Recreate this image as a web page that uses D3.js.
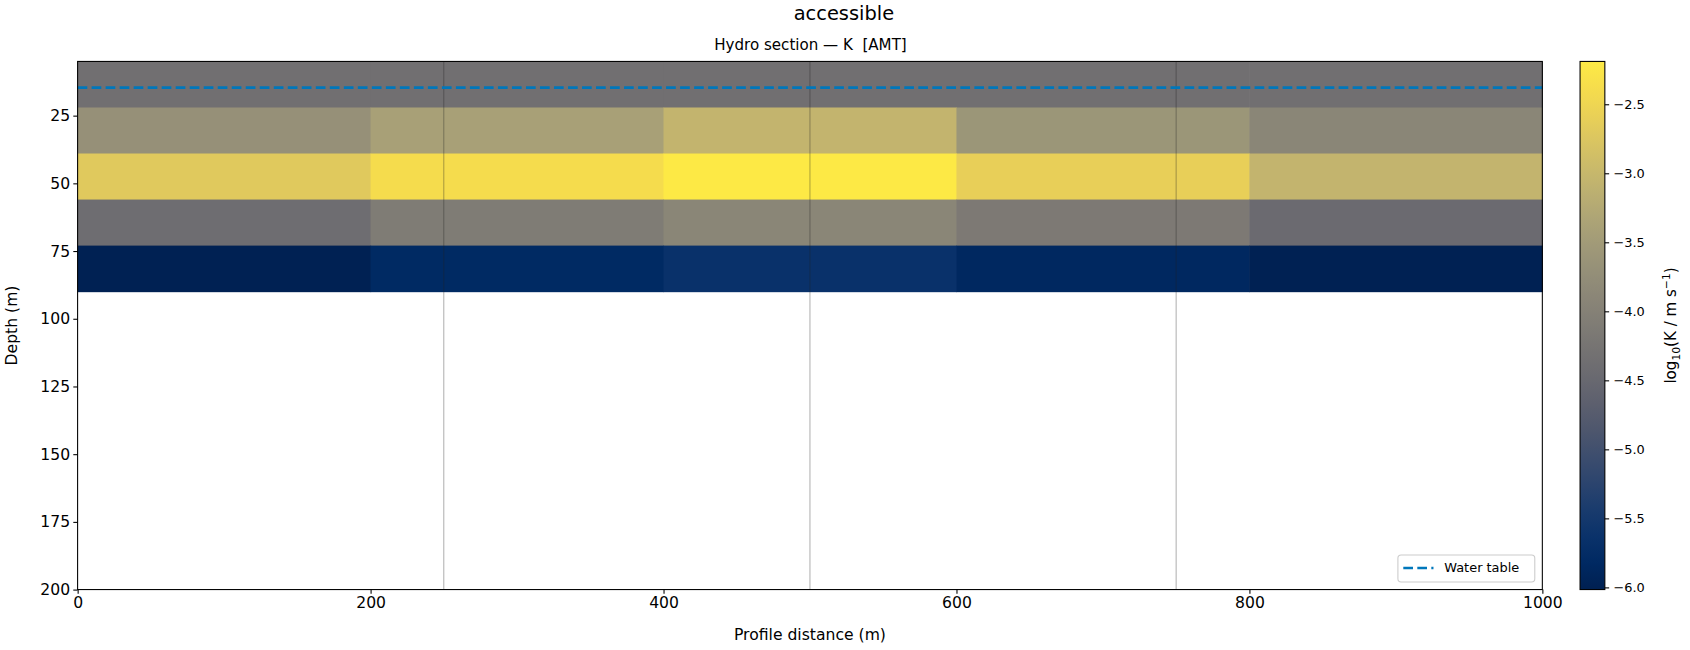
<!DOCTYPE html>
<html><head><meta charset="utf-8">
<script src="https://cdn.jsdelivr.net/npm/d3@7"></script>
<style>body{margin:0;background:#fff}text{font-family:"DejaVu Sans",sans-serif}</style>
</head><body><svg id="c" width="1690" height="650"></svg>
<script>
const colEdges=[0,200,400,600,800,1000];
const layerEdges=[5,22,39,56,73,90];
const logK=[
 [-4.35,-4.35,-4.35,-4.35,-4.35],
 [-3.7,-3.4,-3.05,-3.6,-3.9],
 [-2.7,-2.4,-2.2,-2.6,-3.05],
 [-4.4,-4.1,-3.9,-4.15,-4.45],
 [-6.0,-5.8,-5.65,-5.85,-6.0]];
const boreholes=[250,500,750];
const waterTable=14.7;
const xTicks=[0,200,400,600,800,1000];
const yTicks=[25,50,75,100,125,150,175,200];
const cTicks=[-6,-5.5,-5,-4.5,-4,-3.5,-3,-2.5];
const cDomain=[-6.016,-2.19];

const svg=d3.select("#c").append("g").attr("transform","scale(1.0778)");
const L=72,R=1431,T=57,B=547;
const x=d3.scaleLinear().domain([0,1000]).range([L,R]);
const y=d3.scaleLinear().domain([5,200]).range([T,B]);
const col=v=>d3.interpolateCividis((v-cDomain[0])/(cDomain[1]-cDomain[0]));
const g=svg.append("g");
logK.forEach((row,i)=>row.forEach((v,j)=>{
 g.append("rect").attr("x",x(colEdges[j])).attr("y",y(layerEdges[i]))
  .attr("width",x(colEdges[j+1])-x(colEdges[j])+0.5).attr("height",y(layerEdges[i+1])-y(layerEdges[i])+0.5)
  .attr("fill",col(v));
}));
boreholes.forEach(b=>g.append("line").attr("x1",x(b)).attr("x2",x(b)).attr("y1",T).attr("y2",B).attr("stroke","#222").attr("stroke-width",0.45).attr("opacity",0.75));
g.append("line").attr("x1",L).attr("x2",R).attr("y1",y(waterTable)).attr("y2",y(waterTable))
 .attr("stroke","#0077bb").attr("stroke-width",2.5).attr("stroke-dasharray","9,4");
svg.append("rect").attr("x",L).attr("y",T).attr("width",R-L).attr("height",B-T).attr("fill","none").attr("stroke","#000").attr("stroke-width",1);
const xa=svg.append("g").attr("transform",`translate(0,${B})`).call(d3.axisBottom(x).tickValues(xTicks).tickSize(4).tickPadding(3).tickFormat(d3.format("d")));
const ya=svg.append("g").attr("transform",`translate(${L},0)`).call(d3.axisLeft(y).tickValues(yTicks).tickSize(4).tickPadding(3));
[xa,ya].forEach(a=>{a.select(".domain").remove();a.selectAll("text").attr("font-size",14.5).attr("fill","#000").style("font-family","DejaVu Sans");});
svg.append("text").attr("x",(L+R)/2).attr("y",594).attr("text-anchor","middle").attr("font-size",14.5).text("Profile distance (m)");
svg.append("text").attr("transform",`translate(16,${(T+B)/2}) rotate(-90)`).attr("text-anchor","middle").attr("font-size",14.5).text("Depth (m)");
svg.append("text").attr("x",783).attr("y",19).attr("text-anchor","middle").attr("font-size",18).text("accessible");
svg.append("text").attr("x",752).attr("y",46).attr("text-anchor","middle").attr("font-size",14).text("Hydro section — K  [AMT]").style("white-space","pre");
const lg=svg.append("g");
lg.append("rect").attr("x",1297).attr("y",515).attr("width",127).attr("height",25).attr("rx",3).attr("fill","#fff").attr("stroke","#ccc");
lg.append("line").attr("x1",1302).attr("x2",1330).attr("y1",527).attr("y2",527).attr("stroke","#0077bb").attr("stroke-width",2.5).attr("stroke-dasharray","9,4");
lg.append("text").attr("x",1340).attr("y",531).attr("font-size",12).text("Water table");
const cx=1466,cw=23;
const cy=d3.scaleLinear().domain(cDomain).range([B,T]);
const defs=svg.append("defs");const gr=defs.append("linearGradient").attr("id","cb").attr("x1",0).attr("x2",0).attr("y1",1).attr("y2",0);
d3.range(0,1.001,0.05).forEach(t=>gr.append("stop").attr("offset",t).attr("stop-color",d3.interpolateCividis(t)));
svg.append("rect").attr("x",cx).attr("y",T).attr("width",cw).attr("height",B-T).attr("fill","url(#cb)").attr("stroke","#000");
const ca=svg.append("g").attr("transform",`translate(${cx+cw},0)`).call(d3.axisRight(cy).tickValues(cTicks).tickSize(4).tickPadding(4).tickFormat(d=>d3.format(".1f")(d).replace("-","−")));
ca.select(".domain").remove();ca.selectAll("text").attr("font-size",12).attr("fill","#000");
const lt=svg.append("text").attr("transform",`translate(1555,${(T+B)/2}) rotate(-90)`).attr("text-anchor","middle").attr("font-size",14);
lt.append("tspan").text("log");lt.append("tspan").attr("font-size",10).attr("dy",4).text("10");
lt.append("tspan").attr("dy",-4).text("(K / m s");lt.append("tspan").attr("font-size",10).attr("dy",-6).text("−1");lt.append("tspan").attr("dy",6).text(")");
</script></body></html>
